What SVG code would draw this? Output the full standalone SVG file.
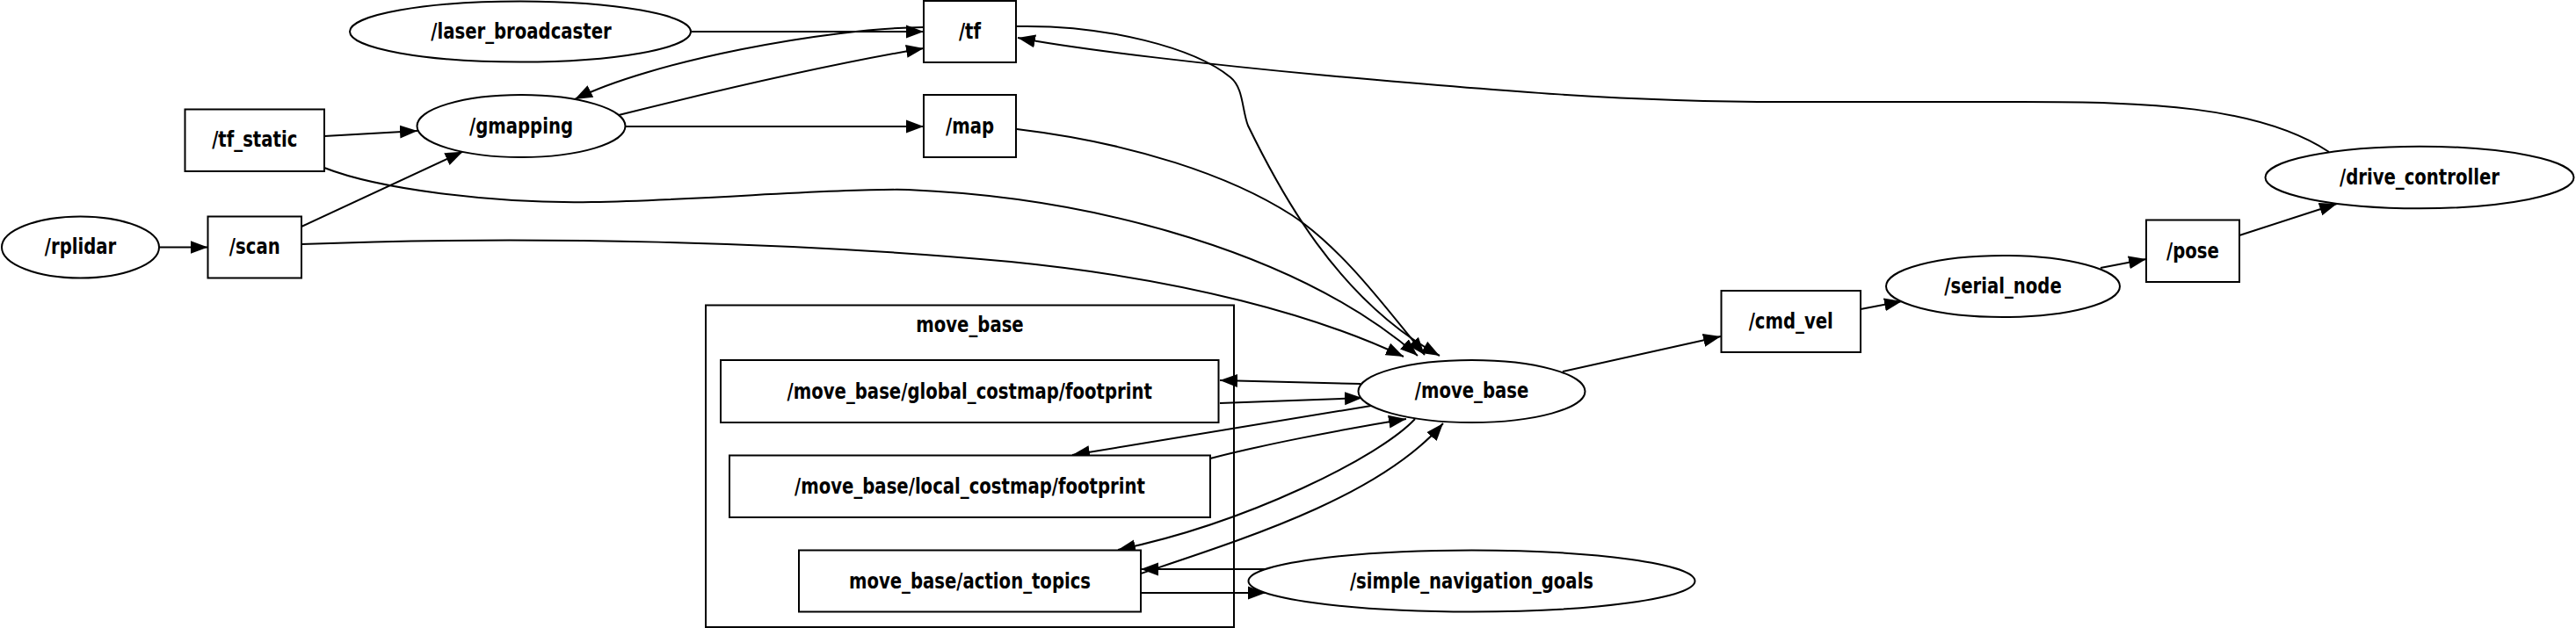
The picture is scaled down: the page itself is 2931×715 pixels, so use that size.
<svg xmlns="http://www.w3.org/2000/svg" width="2931" height="715" viewBox="0 0 2931 715">
<style>
.nd{fill:#fff;stroke:#000;stroke-width:2}
.cl{fill:none;stroke:#000;stroke-width:2}
.lb{font-family:"DejaVu Sans","Liberation Sans",sans-serif;font-weight:bold;font-size:24px;text-anchor:middle;fill:#000}
.e{fill:none;stroke:#000;stroke-width:2;marker-end:url(#ah)}
</style>
<defs>
<marker id="ah" markerUnits="userSpaceOnUse" markerWidth="22" markerHeight="16" refX="20" refY="8" orient="auto">
<path d="M0,0.5 L20,8 L0,15.5 z" fill="#000"/>
</marker>
</defs>
<rect width="2931" height="715" fill="#fff"/>
<g id="cluster_move_base">
<rect class="cl" x="803" y="347.5" width="601" height="366.5"/>
<text class="lb" transform="translate(1103.5 378) scale(0.82 1)">move_base</text>
</g>
<g id="connectors">
<path class="e" d="M787,36 L1051,36"/>
<path class="e" d="M1051,31 C940,32 740,70 654,113"/>
<path class="e" d="M704,131 C820,102 950,72 1051,55"/>
<path class="e" d="M712,144 L1051,144"/>
<path class="e" d="M369,155 L475,149"/>
<path class="e" d="M181,281.5 L236.5,281.5"/>
<path class="e" d="M343,258 L526.5,172.7"/>
<path class="e" d="M369,191 C430,215 560,232 673,230 C800,228 950,214 1033,216 C1250,225 1480,290 1613,405"/>
<path class="e" d="M343,278 C600,268 900,275 1150,298 C1350,318 1500,360 1597,406"/>
<path class="e" d="M1157,147 C1290,163 1400,200 1470,245 C1530,285 1580,355 1621,404"/>
<path class="e" d="M1157,30 C1260,28 1360,55 1400,88 C1415,100 1413,125 1420,143 C1455,215 1520,340 1638,405"/>
<path class="e" d="M2650,173 C2570,120 2440,116 2300,116 L2030,116 C1850,116 1700,103 1510,86 C1390,75 1230,57 1158,43"/>
<path class="e" d="M1778,423 L1958,383"/>
<path class="e" d="M2117,352 L2164,343"/>
<path class="e" d="M2390,305 L2442,295"/>
<path class="e" d="M2548,268 L2659,232"/>
<path class="e" d="M1548,437 L1388,433"/>
<path class="e" d="M1388,459 L1550,453"/>
<path class="e" d="M1560,462 L1220,518"/>
<path class="e" d="M1377,522 C1430,508 1520,490 1600,477"/>
<path class="e" d="M1610,477 C1570,520 1420,595 1272,626"/>
<path class="e" d="M1298,653 C1420,612 1570,565 1642,482"/>
<path class="e" d="M1440,648 L1298,648"/>
<path class="e" d="M1298,675 L1440,675"/>
</g>
<g id="n_laser_broadcaster">
<ellipse class="nd" cx="592" cy="36" rx="194" ry="34.5"/>
<text class="lb" transform="translate(593 44) scale(0.82 1)">/laser_broadcaster</text>
</g>
<g id="n_tf">
<rect class="nd" x="1051" y="1" width="105" height="70"/>
<text class="lb" transform="translate(1103.5 44) scale(0.82 1)">/tf</text>
</g>
<g id="n_gmapping">
<ellipse class="nd" cx="593" cy="143.5" rx="118.5" ry="35.5"/>
<text class="lb" transform="translate(593 152) scale(0.82 1)">/gmapping</text>
</g>
<g id="n_map">
<rect class="nd" x="1051" y="108" width="105" height="71"/>
<text class="lb" transform="translate(1103.5 152) scale(0.82 1)">/map</text>
</g>
<g id="n_tf_static">
<rect class="nd" x="210.5" y="124.5" width="158.5" height="70.5"/>
<text class="lb" transform="translate(289.75 167) scale(0.82 1)">/tf_static</text>
</g>
<g id="n_rplidar">
<ellipse class="nd" cx="91.5" cy="281.5" rx="89.5" ry="35"/>
<text class="lb" transform="translate(91.5 289) scale(0.82 1)">/rplidar</text>
</g>
<g id="n_scan">
<rect class="nd" x="236.5" y="246.5" width="106.5" height="70"/>
<text class="lb" transform="translate(289.75 289) scale(0.82 1)">/scan</text>
</g>
<g id="n_global_footprint">
<rect class="nd" x="820" y="410" width="566.5" height="71"/>
<text class="lb" transform="translate(1103.25 453.5) scale(0.82 1)">/move_base/global_costmap/footprint</text>
</g>
<g id="n_local_footprint">
<rect class="nd" x="830" y="518.5" width="547" height="70.5"/>
<text class="lb" transform="translate(1103.5 562) scale(0.82 1)">/move_base/local_costmap/footprint</text>
</g>
<g id="n_action_topics">
<rect class="nd" x="909" y="626.5" width="389" height="70"/>
<text class="lb" transform="translate(1103.5 669.5) scale(0.82 1)">move_base/action_topics</text>
</g>
<g id="n_move_base">
<ellipse class="nd" cx="1674.5" cy="445.5" rx="129" ry="35.5"/>
<text class="lb" transform="translate(1674.5 453) scale(0.82 1)">/move_base</text>
</g>
<g id="n_simple_navigation_goals">
<ellipse class="nd" cx="1674.5" cy="661.5" rx="254" ry="35"/>
<text class="lb" transform="translate(1674.5 669.5) scale(0.82 1)">/simple_navigation_goals</text>
</g>
<g id="n_cmd_vel">
<rect class="nd" x="1958.5" y="331" width="158.5" height="70"/>
<text class="lb" transform="translate(2037.75 374) scale(0.82 1)">/cmd_vel</text>
</g>
<g id="n_serial_node">
<ellipse class="nd" cx="2279" cy="326" rx="133" ry="35"/>
<text class="lb" transform="translate(2279 334) scale(0.82 1)">/serial_node</text>
</g>
<g id="n_pose">
<rect class="nd" x="2442" y="250.5" width="106" height="70.5"/>
<text class="lb" transform="translate(2495 294) scale(0.82 1)">/pose</text>
</g>
<g id="n_drive_controller">
<ellipse class="nd" cx="2753" cy="202" rx="175.5" ry="35.3"/>
<text class="lb" transform="translate(2753 210) scale(0.82 1)">/drive_controller</text>
</g>
</svg>
